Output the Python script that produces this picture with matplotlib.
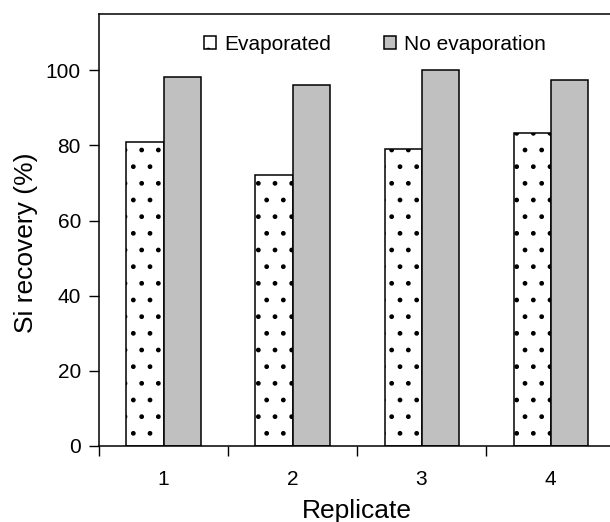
import numpy as np
import matplotlib
matplotlib.use('Agg')
import matplotlib.pyplot as plt

plt.rcParams['font.family'] = ['Liberation Sans', 'DejaVu Sans']
plt.rcParams['hatch.linewidth'] = 1.0

replicates = ['1', '2', '3', '4']
evaporated = [80.8, 72.2, 79.1, 83.2]
no_evaporation = [98.1, 96.0, 100.0, 97.3]

fig = plt.figure(figsize=(6.10, 5.22), dpi=100)
ax = fig.add_axes([0.1623, 0.1456, 0.846, 0.8276])

x = np.arange(1, len(replicates) + 1)
w = 0.287
ax.bar(x - w / 2, evaporated, w, facecolor='white', edgecolor='black',
       linewidth=1.1, hatch='.', label='Evaporated')
ax.bar(x + w / 2, no_evaporation, w, facecolor='#c0c0c0', edgecolor='black',
       linewidth=1.1, label='No evaporation')

ax.set_xlim(0.5, 4.5)
ax.set_ylim(0, 115)
ax.set_yticks([0, 20, 40, 60, 80, 100])

# ticks between groups, labels at group centres
ax.set_xticks(np.arange(0.5, 4.6, 1.0))
ax.set_xticklabels([])
ax.set_xticks(x, minor=True)
ax.set_xticklabels(replicates, minor=True)
ax.tick_params(axis='x', which='minor', length=0, pad=17, labelsize=15)
ax.tick_params(axis='x', which='major', length=7, width=1, direction='out')
ax.tick_params(axis='y', length=7, width=1, direction='out', pad=6,
               labelsize=15)

for s in ax.spines.values():
    s.set_linewidth(1.1)

ax.set_xlabel('Replicate', fontsize=19)
ax.xaxis.set_label_coords(0.5, -0.122)
ax.set_ylabel('Si recovery (%)', fontsize=19)
ax.yaxis.set_label_coords(-0.118, 0.47)

leg = ax.legend(loc='upper center', bbox_to_anchor=(0.535, 0.995), ncol=2,
                frameon=False, fontsize=15, handlelength=0.55,
                handleheight=0.55, handletextpad=0.4, columnspacing=2.55)

fig.savefig('out.png', dpi=100)
